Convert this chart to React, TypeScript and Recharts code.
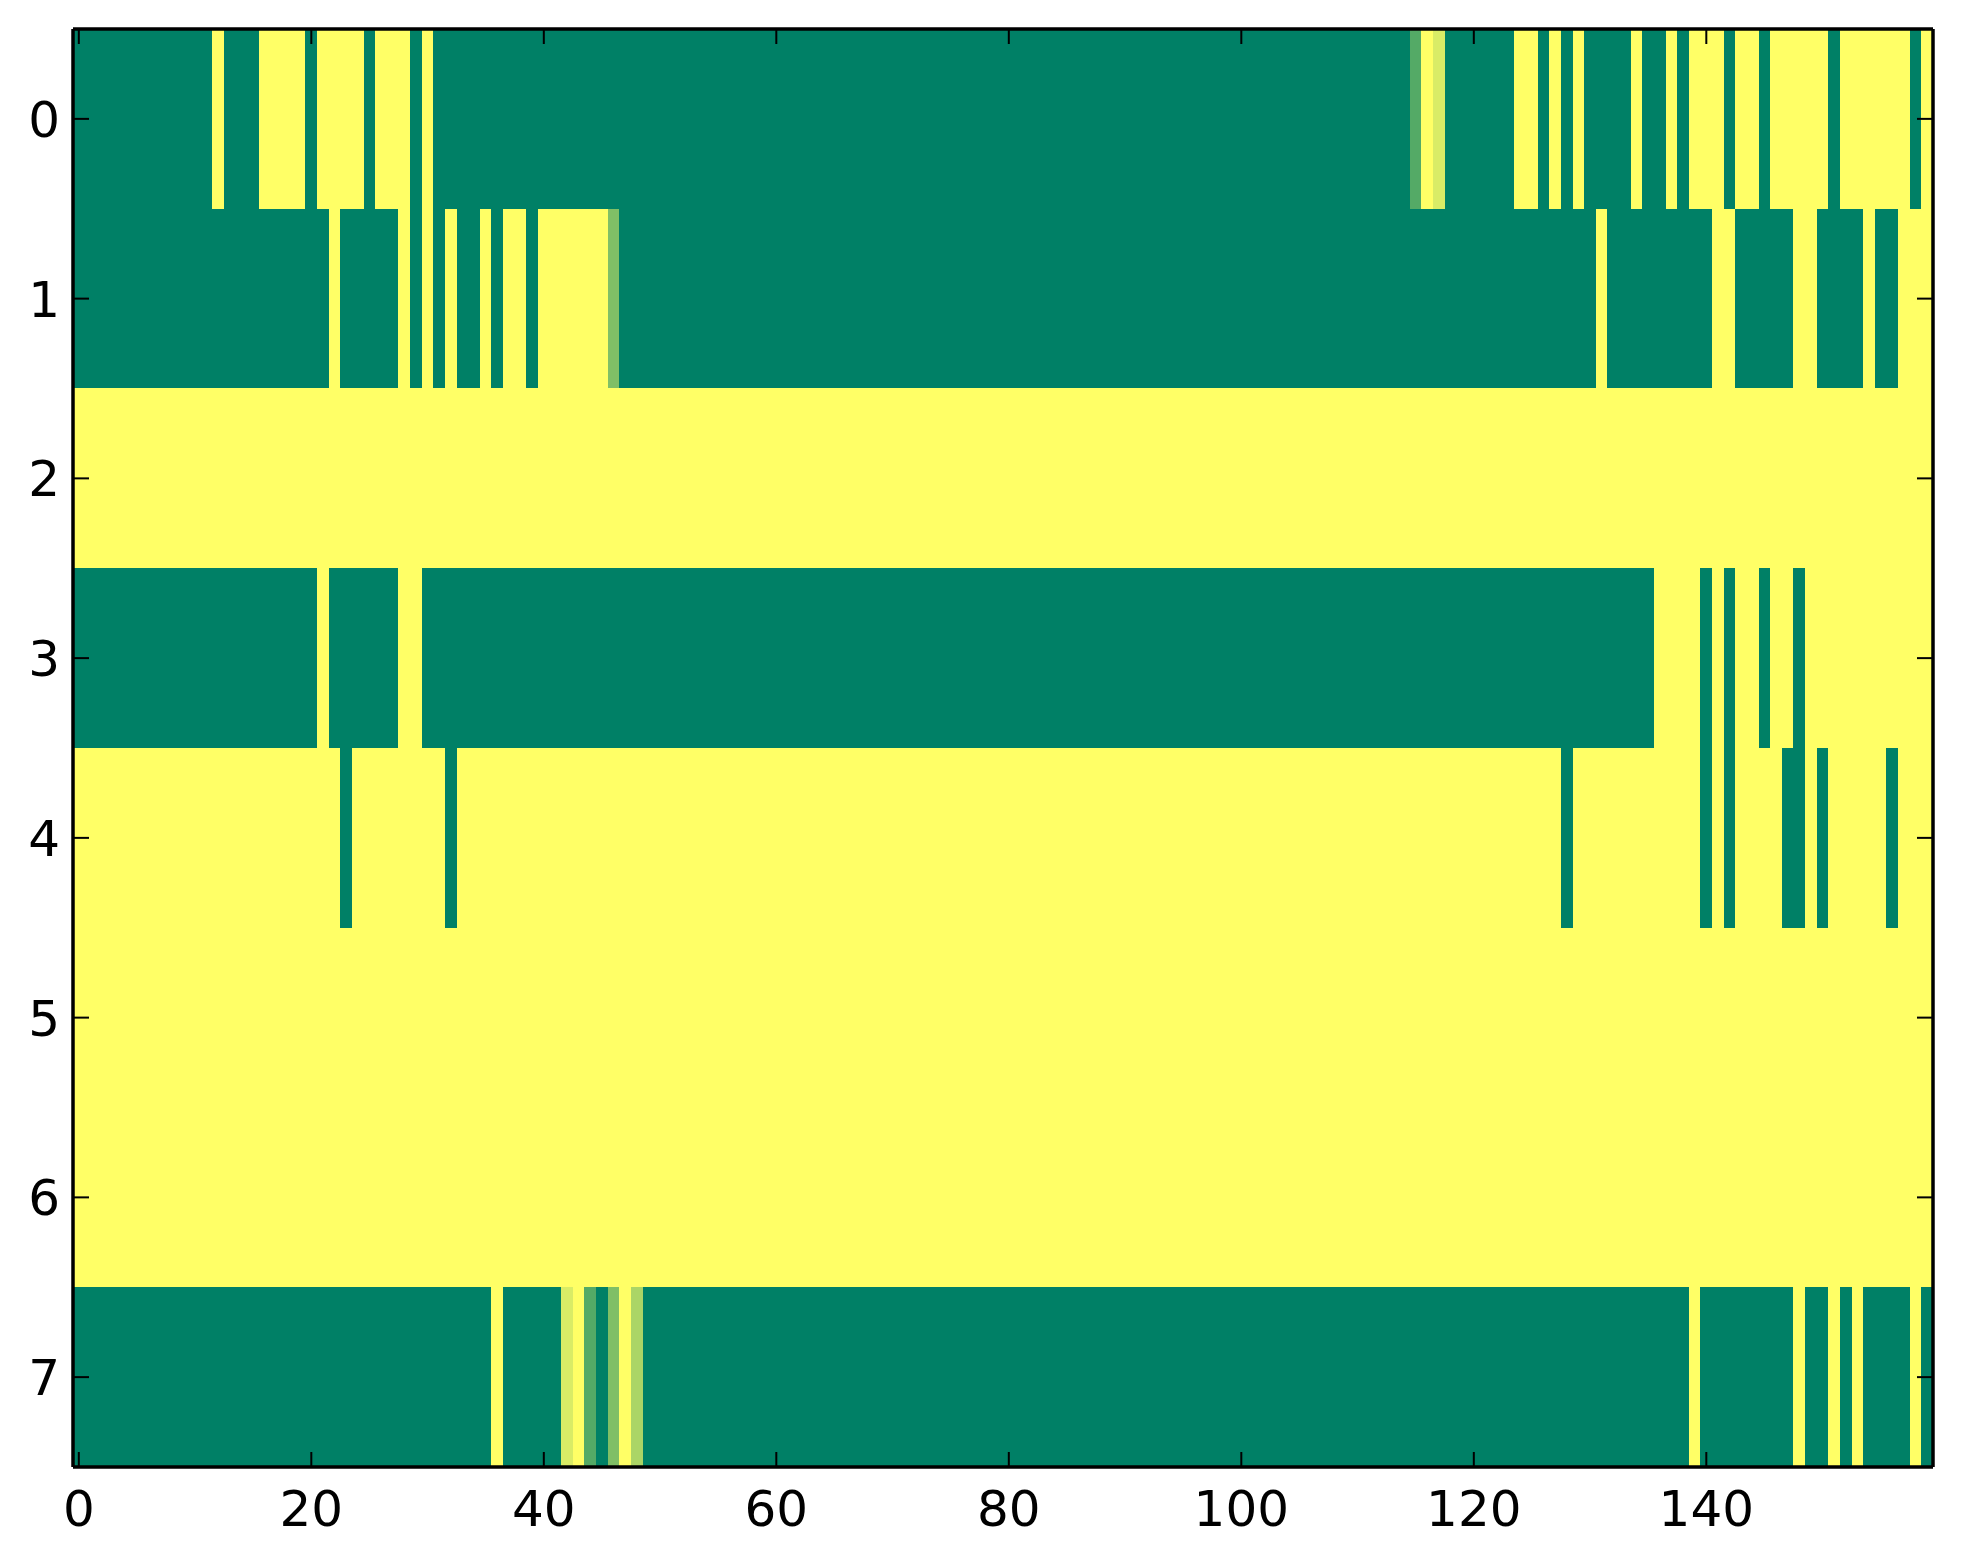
import React from 'react';
import { ScatterChart, Scatter, XAxis, YAxis } from 'recharts';

// ---- layout ----
const CHART_W = 1963;
const CHART_H = 1564;
const MARGIN = { top: 28, right: 29, bottom: 0, left: 0 };
const Y_AXIS_W = 73;
const X_AXIS_H = 97;
const TOP_AXIS_H = 1;
const RIGHT_AXIS_W = 1;
const FONT = '"DejaVu Sans", sans-serif';

// ---- data ----
const N_COLS = 160;
const ROW_IDS = [0, 1, 2, 3, 4, 5, 6, 7];
const X_TICKS = [0, 20, 40, 60, 80, 100, 120, 140];
const Y_TICKS = [0, 1, 2, 3, 4, 5, 6, 7];

// each row: [value, run length] pairs, read left to right
const row0Runs: [number, number][] = [
  [0, 12], [1, 1], [0, 3], [1, 4], [0, 1], [1, 4], [0, 1], [1, 3], [0, 1], [1, 1],
  [0, 84], [0.33, 1], [1, 1], [0.85, 1], [0, 6], [1, 2], [0, 1], [1, 1], [0, 1], [1, 1],
  [0, 4], [1, 1], [0, 2], [1, 1], [0, 1], [1, 3], [0, 1], [1, 2], [0, 1], [1, 5],
  [0, 1], [1, 6], [0, 1], [1, 1],
];
const row1Runs: [number, number][] = [
  [0, 22], [1, 1], [0, 5], [1, 1], [0, 1], [1, 1], [0, 1], [1, 1], [0, 2], [1, 1],
  [0, 1], [1, 2], [0, 1], [1, 6], [0.5, 1], [0, 84], [1, 1], [0, 9], [1, 2], [0, 5],
  [1, 2], [0, 4], [1, 1], [0, 2], [1, 3],
];
const row2Runs: [number, number][] = [[1, 160]];
const row3Runs: [number, number][] = [
  [0, 21], [1, 1], [0, 6], [1, 2], [0, 106], [1, 4], [0, 1], [1, 1], [0, 1], [1, 2],
  [0, 1], [1, 2], [0, 1], [1, 11],
];
const row4Runs: [number, number][] = [
  [1, 23], [0, 1], [1, 8], [0, 1], [1, 95], [0, 1], [1, 11], [0, 1], [1, 1], [0, 1],
  [1, 4], [0, 2], [1, 1], [0, 1], [1, 5], [0, 1], [1, 3],
];
const row5Runs: [number, number][] = [[1, 160]];
const row6Runs: [number, number][] = [[1, 160]];
const row7Runs: [number, number][] = [
  [0, 36], [1, 1], [0, 5], [0.85, 1], [1, 1], [0.33, 1], [0, 1], [0.5, 1], [1, 1], [0.67, 1],
  [0, 90], [1, 1], [0, 8], [1, 1], [0, 2], [1, 1], [0, 1], [1, 1], [0, 4], [1, 1], [0, 1],
];

const ROW_RUNS = [row0Runs, row1Runs, row2Runs, row3Runs, row4Runs, row5Runs, row6Runs, row7Runs];

function expandRuns(runs: [number, number][]): number[] {
  const out: number[] = [];
  runs.forEach(([v, n]) => {
    for (let i = 0; i < n; i++) out.push(v);
  });
  return out;
}

const cells = ROW_RUNS.flatMap((runs, r) =>
  expandRuns(runs).map((v, c) => ({ x: c, y: ROW_IDS[r], v }))
);

// matplotlib "summer" colormap
function summer(v: number): string {
  const r = Math.round(255 * v);
  const g = Math.round(255 * (0.5 + 0.5 * v));
  return `rgb(${r},${g},102)`;
}

const PLOT_W = CHART_W - MARGIN.left - MARGIN.right - Y_AXIS_W - RIGHT_AXIS_W;
const PLOT_H = CHART_H - MARGIN.top - MARGIN.bottom - X_AXIS_H - TOP_AXIS_H;
const CELL_W = PLOT_W / N_COLS;
const CELL_H = PLOT_H / ROW_IDS.length;

const CellShape = (props: any) => {
  const { cx, cy, payload } = props;
  if (cx == null || cy == null) return null;
  return (
    <rect
      x={cx - CELL_W / 2 - 0.1}
      y={cy - CELL_H / 2 - 0.1}
      width={CELL_W + 0.2}
      height={CELL_H + 0.2}
      fill={summer(payload.v)}
      stroke="none"
      shapeRendering="crispEdges"
    />
  );
};

const NoShape = () => null;

const BottomTick = (props: any) => {
  const { x, y, payload } = props;
  return (
    <g>
      <line x1={x} y1={y} x2={x} y2={y - 15} stroke="#000" strokeWidth={2} />
      <text x={x} y={y + 59} textAnchor="middle" fontFamily={FONT} fontSize={50} fill="#000">
        {payload.value}
      </text>
    </g>
  );
};

const TopTick = (props: any) => {
  const { x, y } = props;
  return <line x1={x} y1={y} x2={x} y2={y + 15} stroke="#000" strokeWidth={2} />;
};

const LeftTick = (props: any) => {
  const { x, y, payload } = props;
  return (
    <g>
      <line x1={x} y1={y} x2={x + 16} y2={y} stroke="#000" strokeWidth={2} />
      <text x={x - 13} y={y + 18} textAnchor="end" fontFamily={FONT} fontSize={50} fill="#000">
        {payload.value}
      </text>
    </g>
  );
};

const RightTick = (props: any) => {
  const { x, y } = props;
  return <line x1={x} y1={y} x2={x - 16} y2={y} stroke="#000" strokeWidth={2} />;
};

const axisLine = { stroke: '#000', strokeWidth: 3.5 };

function renderAxes(visible: boolean) {
  return [
    <XAxis
      key="xb"
      xAxisId="b"
      type="number"
      dataKey="x"
      domain={[-0.5, N_COLS - 0.5]}
      ticks={X_TICKS}
      allowDataOverflow
      orientation="bottom"
      height={X_AXIS_H}
      tickSize={0}
      tickMargin={0}
      tickLine={false}
      axisLine={visible ? axisLine : false}
      tick={visible ? <BottomTick /> : false}
      interval={0}
    />,
    <XAxis
      key="xt"
      xAxisId="t"
      type="number"
      dataKey="x"
      domain={[-0.5, N_COLS - 0.5]}
      ticks={X_TICKS}
      allowDataOverflow
      orientation="top"
      height={TOP_AXIS_H}
      tickSize={0}
      tickMargin={0}
      tickLine={false}
      axisLine={visible ? axisLine : false}
      tick={visible ? <TopTick /> : false}
      interval={0}
    />,
    <YAxis
      key="yl"
      yAxisId="l"
      type="number"
      dataKey="y"
      domain={[-0.5, ROW_IDS.length - 0.5]}
      ticks={Y_TICKS}
      reversed
      allowDataOverflow
      orientation="left"
      width={Y_AXIS_W}
      tickSize={0}
      tickMargin={0}
      tickLine={false}
      axisLine={visible ? axisLine : false}
      tick={visible ? <LeftTick /> : false}
      interval={0}
    />,
    <YAxis
      key="yr"
      yAxisId="r"
      type="number"
      dataKey="y"
      domain={[-0.5, ROW_IDS.length - 0.5]}
      ticks={Y_TICKS}
      reversed
      allowDataOverflow
      orientation="right"
      width={RIGHT_AXIS_W}
      tickSize={0}
      tickMargin={0}
      tickLine={false}
      axisLine={visible ? axisLine : false}
      tick={visible ? <RightTick /> : false}
      interval={0}
    />,
  ];
}

const layer: React.CSSProperties = { position: 'absolute', left: 0, top: 0 };

export default function App() {
  return (
    <div style={{ position: 'absolute', left: 0, top: 0, width: CHART_W, height: CHART_H, background: '#fff' }}>
      <div style={layer}>
        <ScatterChart width={CHART_W} height={CHART_H} margin={MARGIN}>
          <Scatter
            data={cells}
            dataKey="y"
            shape={CellShape}
            isAnimationActive={false}
            xAxisId="b"
            yAxisId="l"
          />
          {renderAxes(false)}
        </ScatterChart>
      </div>
      <div style={{ ...layer, pointerEvents: 'none' }}>
        <ScatterChart width={CHART_W} height={CHART_H} margin={MARGIN}>
          <Scatter
            data={cells}
            dataKey="y"
            shape={NoShape}
            isAnimationActive={false}
            xAxisId="b"
            yAxisId="l"
          />
          {renderAxes(true)}
        </ScatterChart>
      </div>
    </div>
  );
}
